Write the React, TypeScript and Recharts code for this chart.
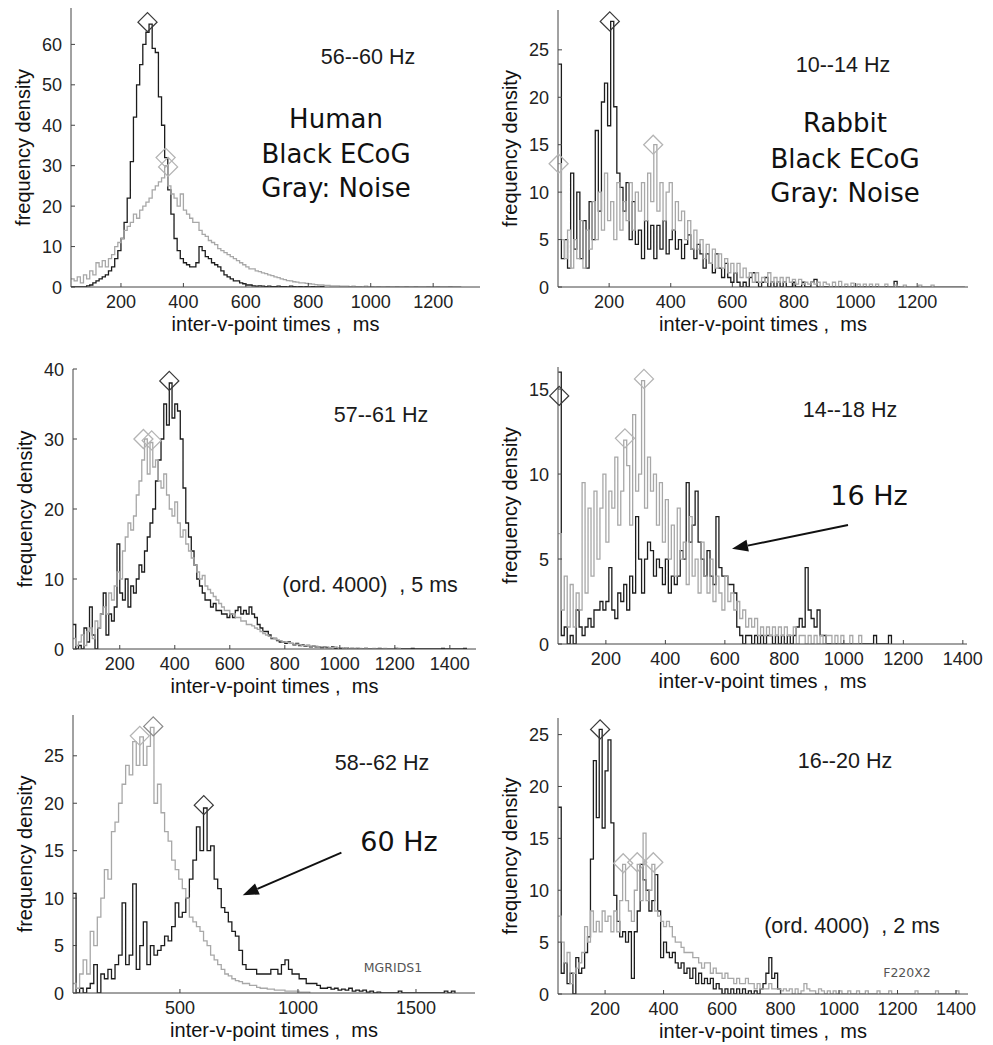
import React from 'react';
import { LineChart, Line, XAxis, YAxis, ReferenceDot, ReferenceLine } from 'recharts';

const BLACK = '#1c1c1c';
const GRAY = '#a8a8a8';
const AXIS = '#444';
const SANS = '"Liberation Sans", Arial, sans-serif';
const LUCIDA = '"DejaVu Sans", sans-serif';

// ---- panel 1: human 56--60 Hz (10 ms bins from 40 ms)
const p1Start = 40;
const p1Step = 10;
const p1Black = [
  0, 0, 0, 0, 0, 0.3, 0.5, 1, 1.5, 2,
  2.5, 3, 4, 5, 7, 9, 12, 16, 22, 31,
  42, 50, 55, 60, 63, 65, 59, 58, 47, 40,
  32, 24, 18, 12, 9, 7, 6, 5.5, 5, 5,
  6, 10, 9, 7.5, 7, 6, 5.5, 5, 4, 3,
  2.5, 2, 1.5, 1.5, 1, 0.8, 0.5, 0.5, 0.3, 0.2,
  0.3, 0.2, 0.1, 0.2, 0.1, 0.1, 0.2, 0.1, 0.1, 0,
  0.2, 0.1, 0, 0.1, 0, 0.1, 0, 0.1, 0, 0,
  0.1, 0,
];
const p1Gray = [
  2, 1.5, 2.5, 1, 3, 2, 4, 3, 6, 5,
  6.5, 5, 7, 8, 10, 11, 12, 14, 15, 16,
  18, 17, 19, 20, 21, 22, 24, 25, 26, 27,
  30, 25, 23, 22, 20, 23, 19, 18, 17, 16,
  16, 14, 13, 12.5, 11.5, 11, 10.5, 9.5, 9, 8.5,
  8, 7.5, 7, 6.5, 6, 5.5, 5, 4.5, 4.5, 4,
  3.8, 3.5, 3.3, 3, 2.8, 2.5, 2.3, 2, 1.8, 1.6,
  1.5, 1.3, 1.2, 1, 1, 0.9, 0.8, 0.7, 0.6, 0.5,
  0.5, 0.4, 0.4, 0.3, 0.3, 0.3, 0.2, 0.2, 0.2, 0.1,
  0.2, 0.1, 0.1, 0, 0.2, 0, 0.1, 0, 0.1, 0,
  0, 0.1, 0, 0, 0.1, 0, 0, 0.1, 0, 0,
  0.1, 0, 0, 0, 0.1, 0, 0, 0.1, 0, 0,
  0, 0.1, 0, 0, 0, 0,
];
const p1Peaks = [
  { t: 285, v: 65.5, tone: 'dark' },
  { t: 343, v: 32, tone: 'light' },
  { t: 351, v: 29.7, tone: 'light' },
];
const p1XTicks = [200, 400, 600, 800, 1000, 1200];
const p1YTicks = [0, 10, 20, 30, 40, 50, 60];

// ---- panel 2: rabbit 10--14 Hz (10 ms bins from 35 ms)
const p2Start = 35;
const p2Step = 10;
const p2Black = [
  23.5, 3, 5, 2, 12, 4, 10, 3, 7, 2,
  9, 5, 16.5, 8, 19.5, 21.5, 17, 28, 19, 12,
  10.5, 8, 11, 5, 9, 4.5, 6, 3, 7, 4,
  6.5, 3, 6.5, 4, 7, 3.5, 5, 6, 4, 5,
  3, 4.5, 5.5, 4, 3, 4.5, 3.5, 2, 3.5, 2.5,
  1.5, 3.5, 2, 1, 2.5, 1, 0.5, 1.5, 0.5, 0,
  0.5, 0, 1, 1.5, 0.5, 0, 0.5, 1, 0, 0.5,
  0, 0.5, 0, 0.5, 0, 0, 0.5, 0, 0, 0.5,
  0, 0, 0.5, 0.8, 0, 0, 0, 0, 0, 0,
  0, 0, 0, 0, 0, 0, 0, 0, 0, 0,
  0, 0, 0, 0, 0, 0, 0, 0, 0, 0.6,
  0, 0,
];
const p2Gray = [
  13, 5, 3, 6, 2, 5, 3, 7, 2, 6,
  4, 9, 5, 10, 6, 12, 7, 9, 5, 11,
  6, 9, 7, 11, 6, 10, 8, 11, 7, 12,
  9, 15, 8, 11, 7, 10, 11, 6, 9, 7,
  8, 5, 7, 4, 6, 4, 5, 3, 4.5, 2.5,
  4, 2, 3.5, 2, 3, 1.5, 2.5, 1.5, 2.5, 1,
  2, 1, 1.5, 0.5, 1.5, 0.5, 1, 0.5, 1.5, 0.5,
  1, 0.5, 1, 0.5, 1, 0.5, 0.8, 0.3, 0.8, 0.3,
  0.5, 0.3, 0.5, 0.3, 0.5, 0, 0.5, 0.3, 0, 0.5,
  0, 0.6, 0, 0.3, 0, 0.4, 0, 0.3, 0, 0.3,
  0, 0.3, 0, 0.3, 0, 0, 0.3, 0, 0, 0.2,
  0, 0, 0.2, 0, 0, 0, 0, 0.2, 0, 0,
  0, 0.2, 0, 0, 0, 0, 0, 0, 0, 0,
  0, 0, 0,
];
const p2Peaks = [
  { t: 202, v: 28, tone: 'dark' },
  { t: 36, v: 13, tone: 'light' },
  { t: 343, v: 15, tone: 'light' },
];
const p2XTicks = [200, 400, 600, 800, 1000, 1200];
const p2YTicks = [0, 5, 10, 15, 20, 25];

// ---- panel 3: human 57--61 Hz (10 ms bins from 30 ms)
const p3Start = 30;
const p3Step = 10;
const p3Black = [
  3.5, 0, 0.5, 0, 3, 1, 6, 2, 0, 3,
  5, 8, 2, 5, 4, 6, 15, 8, 7, 10,
  6, 9, 8, 10, 12, 11, 14, 16, 18, 20,
  24, 27, 30, 35, 32, 38, 33, 35, 34, 30,
  23, 18, 16, 14, 12, 10, 9, 8, 7, 7,
  6, 6.5, 5.5, 5.5, 5, 5, 4.5, 5, 4.5, 5.5,
  6, 5, 5.5, 5, 6, 5, 4.5, 3.5, 3, 2.5,
  2.5, 2, 1.5, 1.5, 1.2, 1, 1, 0.8, 1, 0.8,
  0.6, 0.8, 0.5, 0.6, 0.4, 0.5, 0.3, 0.4, 0.3, 0.3,
  0.2, 0.3, 0.2, 0.2, 0.3, 0.1, 0.2, 0.1, 0.1, 0.2,
  0, 0.1, 0, 0.1, 0, 0, 0.1, 0, 0, 0,
  0, 0.1, 0, 0, 0, 0, 0, 0.1, 0, 0,
  0, 0, 0, 0.1, 0, 0, 0, 0, 0, 0,
  0, 0, 0, 0, 0.1, 0, 0, 0, 0, 0,
  0, 0, 0.1, 0,
];
const p3Gray = [
  1.5, 0.5, 1, 2, 0.5, 2.5, 3, 1.5, 4, 3,
  5, 6, 5, 8, 7, 9, 11, 10, 14, 16,
  18, 17, 19, 22, 24, 27, 30, 25, 29.5, 26,
  27, 24, 23, 25, 22, 20, 19, 21, 18, 16,
  17, 15, 14, 13, 12, 11, 10, 10.5, 9, 8.5,
  8, 7.5, 7, 6.5, 6, 5.5, 5.5, 5, 5, 4.5,
  4.5, 4, 4, 3.5, 3.5, 3.3, 3, 2.8, 2.5, 2.2,
  2, 1.8, 1.6, 1.5, 1.3, 1.2, 1, 1, 0.9, 0.8,
  0.7, 0.7, 0.6, 0.5, 0.5, 0.5, 0.4, 0.4, 0.4, 0.3,
  0.3, 0.3, 0.3, 0.2, 0.2, 0.3, 0.2, 0.2, 0.1, 0.2,
  0.1, 0.1, 0.1, 0, 0.1, 0, 0.1, 0, 0, 0.1,
  0, 0, 0, 0.1, 0, 0, 0, 0, 0.1, 0,
];
const p3Peaks = [
  { t: 380, v: 38.3, tone: 'dark' },
  { t: 286, v: 30, tone: 'light' },
  { t: 316, v: 29.8, tone: 'light' },
];
const p3XTicks = [200, 400, 600, 800, 1000, 1200, 1400];
const p3YTicks = [0, 10, 20, 30, 40];

// ---- panel 4: rabbit 14--18 Hz (10 ms bins from 40 ms)
const p4Start = 40;
const p4Step = 10;
const p4Black = [
  16, 0.5, 1, 0, 0.5, 0, 2, 1, 0.5, 1,
  1.5, 1, 2, 2, 2.5, 2, 2.5, 4.5, 2, 1.5,
  3, 2.5, 3.5, 2, 4, 3, 7.5, 5, 3, 5,
  6, 5.5, 4, 5, 4.5, 3.5, 5, 3, 4, 3.5,
  4, 5.5, 5, 9.5, 6, 7, 9, 6, 5, 4,
  5.5, 4, 3.5, 7.5, 4.5, 4, 4, 3.5, 3.5, 3,
  1, 0.5, 0, 0.5, 0.5, 0, 0.5, 0, 0.5, 0,
  0.5, 0.5, 0, 0.5, 0, 0.5, 0, 0.5, 0, 0.5,
  1, 1.5, 1, 4.5, 2, 1.5, 1, 2, 0.5, 0.5,
  0, 0, 0, 0, 0, 0, 0, 0, 0, 0,
  0, 0, 0, 0, 0, 0, 0.5, 0, 0, 0,
  0, 0.5, 0,
];
const p4Gray = [
  6.5, 2, 4, 1, 3.5, 1, 3, 2, 9.5, 3,
  8, 4, 9, 5, 8, 10, 6, 9, 8, 11,
  7, 9, 12, 10.5, 7, 13.5, 9, 10, 15.5, 8,
  11, 9, 10, 7, 9.5, 6, 8.5, 5, 7, 4,
  8, 5, 6, 3.5, 7.5, 4, 5, 3, 6, 4,
  3, 5, 2.5, 4, 3, 2, 4, 2.5, 3, 2,
  2.5, 1.5, 2, 1, 1.5, 1, 1.5, 0.5, 1, 0.5,
  1, 0.5, 1, 0.5, 1, 0.5, 1, 0.5, 0.5, 1,
  0, 0.5, 0.5, 0, 0.5, 0, 0.5, 0, 0.5, 0,
  0.5, 0.5, 0, 0.5, 0, 0.5, 0, 0, 0.5, 0,
  0, 0.5, 0,
];
const p4Peaks = [
  { t: 43, v: 14.6, tone: 'dark' },
  { t: 264, v: 12.1, tone: 'light' },
  { t: 328, v: 15.6, tone: 'light' },
];
const p4Arrow = { from: [1014, 7.0], to: [624, 5.6] };
const p4XTicks = [200, 400, 600, 800, 1000, 1200, 1400];
const p4YTicks = [0, 5, 10, 15];

// ---- panel 5: human 58--62 Hz (15 ms bins from 45 ms)
const p5Start = 45;
const p5Step = 15;
const p5Black = [
  10.5, 0, 0.5, 0, 0.5, 1, 3, 0, 2, 1.5,
  2.5, 1.5, 3, 4, 9.5, 3, 4, 11.5, 2.5, 5,
  7.5, 3, 5, 4, 4.5, 5, 6, 5.5, 7, 9.5,
  8, 8.5, 10, 12, 14, 17.5, 15, 19.5, 15, 15.5,
  12, 11, 9, 8.5, 7.5, 6.5, 6, 4.5, 3, 2.5,
  2.5, 2.5, 2, 2, 2, 2, 2.5, 2.5, 2, 3,
  3.5, 2.5, 2, 2, 1.5, 1.5, 1, 1, 1, 0.8,
  0.5, 0.5, 0.6, 0.4, 0.5, 0.3, 0.4, 0.3, 0.5, 0.2,
  0.3, 0.2, 0.3, 0.1, 0.2, 0, 0.1, 0, 0, 0,
  0, 0, 0.2, 0, 0, 0, 0, 0, 0, 0,
  0, 0, 0, 0, 0, 0.2, 0, 0.2, 0,
];
const p5Gray = [
  1, 0.5, 2, 3.5, 2, 6.5, 5, 8, 10, 13,
  12, 17, 18, 20, 22, 24, 23, 26.5, 24, 27,
  24, 26, 28, 20, 22, 19, 17, 16, 14, 13,
  12, 11, 10, 8, 7.5, 7, 6.5, 5.5, 5, 4,
  3.5, 3, 2.5, 2, 1.8, 1.5, 1.3, 1.2, 1, 1,
  0.8, 0.8, 0.6, 0.5, 0.5, 0.4, 0.4, 0.3, 0.3, 0.3,
  0.2, 0.2, 0.2, 0.2, 0.1, 0.1, 0.1, 0,
];
const p5Peaks = [
  { t: 601, v: 19.8, tone: 'dark' },
  { t: 330, v: 27.1, tone: 'light' },
  { t: 387, v: 28.1, tone: 'mid' },
];
const p5Arrow = { from: [1184, 14.8], to: [766, 10.3] };
const p5XTicks = [500, 1000, 1500];
const p5YTicks = [0, 5, 10, 15, 20, 25];

// ---- panel 6: rabbit 16--20 Hz (10 ms bins from 40 ms)
const p6Start = 40;
const p6Step = 10;
const p6Black = [
  18, 2, 3, 1, 2, 0, 3.5, 2, 2.5, 4,
  5.5, 13, 22.5, 17, 25.5, 16, 21.5, 24.5, 16.5, 9.5,
  7, 5.5, 6, 5, 6, 1.5, 6, 8, 12.5, 11,
  10, 8, 9, 11.5, 8, 3.5, 5, 4, 3.5, 4,
  3, 2.5, 3, 2, 2.5, 1.5, 2.5, 1, 2, 1,
  1.5, 1, 1.5, 0.5, 1, 0.5, 0, 0.5, 0, 0.5,
  0, 0.5, 0, 0.5, 0, 0.3, 0, 0.3, 0, 0.5,
  1, 2, 3.5, 1.5, 2, 0.5, 0,
];
const p6Gray = [
  7.5, 5, 3, 4, 1, 2, 2.5, 3, 4, 6.5,
  5, 8, 6, 7, 6, 8, 7, 7.5, 6, 8,
  6, 9, 12.5, 9, 8, 7, 10, 12.5, 9, 15.5,
  9, 10, 12.5, 8, 7.5, 7, 6.5, 7, 6.5, 5.5,
  5, 5, 4.5, 4, 4, 4, 3.5, 3.5, 3, 2.5,
  3, 3, 2, 2.5, 2, 2, 1.5, 2, 1.5, 1.5,
  1, 1.5, 1, 1, 1.5, 1, 1, 0.5, 1, 0.5,
  0.5, 0.5, 1, 0.5, 0.5, 0.5, 0.3, 0.5, 0.3, 0.5,
  0, 0.5, 0, 0.3, 1, 0.5, 0.3, 0.3, 0, 0.5,
  0.3, 0, 0.3, 0, 0.3, 0, 0.3, 0, 0, 0.3,
  0, 0, 0.3, 0, 0, 0.3, 0, 0, 0, 0.3,
  0, 0, 0, 0.3, 0, 0, 0, 0, 0, 0,
  0, 0, 0.3, 0, 0, 0, 0, 0, 0, 0.3,
  0, 0, 0, 0, 0, 0, 0.3, 0,
];
const p6Peaks = [
  { t: 183, v: 25.5, tone: 'dark' },
  { t: 262, v: 12.6, tone: 'light' },
  { t: 310, v: 12.7, tone: 'light' },
  { t: 365, v: 12.7, tone: 'light' },
];
const p6XTicks = [200, 400, 600, 800, 1000, 1200, 1400];
const p6YTicks = [0, 5, 10, 15, 20, 25];

function toRows(start: number, step: number, black: number[], gray: number[]) {
  const n = Math.max(black.length, gray.length);
  const rows = [];
  for (let i = 0; i < n; i++) {
    rows.push({ t: start + i * step, black: black[i], gray: gray[i] });
  }
  return rows;
}

const toneColor: Record<string, string> = { dark: '#3a3a3a', mid: '#8a8a8a', light: '#b4b4b4' };

function Diamond(props: any) {
  const { cx, cy, stroke } = props;
  const r = 9.5;
  return (
    <polygon
      points={`${cx},${cy - r} ${cx + r},${cy} ${cx},${cy + r} ${cx - r},${cy}`}
      fill="none"
      stroke={stroke}
      strokeWidth={1.3}
    />
  );
}

function Arrow(props: any) {
  const { x1, y1, x2, y2 } = props;
  const ang = Math.atan2(y2 - y1, x2 - x1);
  const len = 16;
  const half = 6;
  const bx = x2 - len * Math.cos(ang);
  const by = y2 - len * Math.sin(ang);
  const px = -Math.sin(ang) * half;
  const py = Math.cos(ang) * half;
  return (
    <g>
      <line x1={x1} y1={y1} x2={bx} y2={by} stroke="#111" strokeWidth={2} />
      <polygon points={`${x2},${y2} ${bx + px},${by + py} ${bx - px},${by - py}`} fill="#111" />
    </g>
  );
}

function XTick(props: any) {
  const { x, y, payload } = props;
  return (
    <g>
      <line x1={x} x2={x} y1={y} y2={y - 4} stroke={AXIS} />
      <text x={x} y={y + 21} textAnchor="middle" fontSize={18} fontFamily={SANS} fill="#222">
        {payload.value}
      </text>
    </g>
  );
}

function YTick(props: any) {
  const { x, y, payload } = props;
  return (
    <g>
      <line x1={x} x2={x + 4} y1={y} y2={y} stroke={AXIS} />
      <text x={x - 9} y={y} dy={6.5} textAnchor="end" fontSize={18} fontFamily={SANS} fill="#222">
        {payload.value}
      </text>
    </g>
  );
}

type PanelProps = {
  left: number;
  top: number;
  w: number;
  h: number;
  rows: any[];
  xDomain: [number, number];
  xTicks: number[];
  yMax: number;
  yTicks: number[];
  peaks: { t: number; v: number; tone: string }[];
  arrow?: { from: number[]; to: number[] };
};

function Panel({ left, top, w, h, rows, xDomain, xTicks, yMax, yTicks, peaks, arrow }: PanelProps) {
  const ML = 60;
  const MT = 10;
  const MR = 24;
  const XH = 50;
  return (
    <div style={{ position: 'absolute', left: left - ML, top: top - MT }}>
      <LineChart
        width={ML + w + MR}
        height={MT + h + XH}
        data={rows}
        margin={{ top: MT, right: MR, bottom: 0, left: 0 }}
      >
        <XAxis
          dataKey="t"
          type="number"
          domain={xDomain}
          ticks={xTicks}
          interval={0}
          allowDataOverflow
          height={XH}
          tickSize={0}
          tickMargin={0}
          tick={(p: any) => <XTick {...p} />}
          axisLine={{ stroke: AXIS }}
          label={{
            value: 'inter-v-point times ,\u00a0 ms',
            position: 'insideBottom',
            offset: 6,
            fontSize: 20,
            fontFamily: SANS,
            fill: '#111',
          }}
        />
        <YAxis
          type="number"
          domain={[0, yMax]}
          ticks={yTicks}
          interval={0}
          allowDataOverflow
          width={ML}
          tickSize={0}
          tickMargin={0}
          tick={(p: any) => <YTick {...p} />}
          axisLine={{ stroke: AXIS }}
          label={{
            value: 'frequency density',
            angle: -90,
            position: 'insideLeft',
            offset: 12,
            fontSize: 20,
            fontFamily: SANS,
            fill: '#111',
            style: { textAnchor: 'middle' },
          }}
        />
        <Line
          dataKey="black"
          type="stepAfter"
          stroke={BLACK}
          strokeWidth={1.3}
          dot={false}
          isAnimationActive={false}
        />
        <Line
          dataKey="gray"
          type="stepAfter"
          stroke={GRAY}
          strokeWidth={1.3}
          dot={false}
          isAnimationActive={false}
        />
        {peaks.map((p, i) => (
          <ReferenceDot
            key={i}
            x={p.t}
            y={p.v}
            r={9}
            ifOverflow="visible"
            shape={(sp: any) => <Diamond {...sp} stroke={toneColor[p.tone]} />}
          />
        ))}
        {arrow && (
          <ReferenceLine
            ifOverflow="visible"
            segment={[
              { x: arrow.from[0], y: arrow.from[1] },
              { x: arrow.to[0], y: arrow.to[1] },
            ]}
            shape={(sp: any) => <Arrow {...sp} />}
          />
        )}
      </LineChart>
    </div>
  );
}

function Notes() {
  const small = { fontFamily: SANS, fontSize: 21.5, fill: '#1a1a1a', textAnchor: 'middle' as const };
  const big = { fontFamily: LUCIDA, fontSize: 26, fill: '#111', textAnchor: 'middle' as const };
  const hz = { fontFamily: LUCIDA, fontSize: 27, fill: '#111', textAnchor: 'middle' as const };
  const tag = { fontFamily: LUCIDA, fontSize: 12.5, fill: '#555', textAnchor: 'middle' as const };
  return (
    <svg
      width={993}
      height={1045}
      style={{ position: 'absolute', left: 0, top: 0, pointerEvents: 'none' }}
    >
      <text x={368} y={64} {...small}>56--60 Hz</text>
      <text x={336} y={128} {...big}>Human</text>
      <text x={336} y={163} {...big}>Black ECoG</text>
      <text x={336} y={197} {...big}>Gray: Noise</text>

      <text x={843} y={72} {...small}>10--14 Hz</text>
      <text x={845} y={132} {...big}>Rabbit</text>
      <text x={845} y={168} {...big}>Black ECoG</text>
      <text x={845} y={202} {...big}>Gray: Noise</text>

      <text x={381} y={422} {...small}>57--61 Hz</text>
      <text x={370} y={592} {...small}>(ord. 4000)&#160; , 5 ms</text>

      <text x={850} y={417} {...small}>14--18 Hz</text>
      <text x={869} y={505} {...hz}>16 Hz</text>

      <text x={382} y={770} {...small}>58--62 Hz</text>
      <text x={399} y={851} {...hz}>60 Hz</text>
      <text x={393} y={972} {...tag}>MGRIDS1</text>

      <text x={845} y={768} {...small}>16--20 Hz</text>
      <text x={852} y={933} {...small}>(ord. 4000)&#160; , 2 ms</text>
      <text x={907} y={977} {...tag}>F220X2</text>
    </svg>
  );
}

export default function App() {
  return (
    <div style={{ position: 'absolute', left: 0, top: 0, width: 993, height: 1045, background: '#fff' }}>
      <Panel
        left={71} top={8} w={409} h={279}
        rows={toRows(p1Start, p1Step, p1Black, p1Gray)}
        xDomain={[40, 1350]} xTicks={p1XTicks} yMax={69} yTicks={p1YTicks} peaks={p1Peaks}
      />
      <Panel
        left={558} top={10} w={410} h={277}
        rows={toRows(p2Start, p2Step, p2Black, p2Gray)}
        xDomain={[34, 1365]} xTicks={p2XTicks} yMax={29.2} yTicks={p2YTicks} peaks={p2Peaks}
      />
      <Panel
        left={73} top={369} w={403} h={280}
        rows={toRows(p3Start, p3Step, p3Black, p3Gray)}
        xDomain={[30, 1495]} xTicks={p3XTicks} yMax={40} yTicks={p3YTicks} peaks={p3Peaks}
      />
      <Panel
        left={558} top={367} w={409} h={277}
        rows={toRows(p4Start, p4Step, p4Black, p4Gray)}
        xDomain={[39, 1414]} xTicks={p4XTicks} yMax={16.3} yTicks={p4YTicks} peaks={p4Peaks}
        arrow={p4Arrow}
      />
      <Panel
        left={73} top={715} w={402} h={278}
        rows={toRows(p5Start, p5Step, p5Black, p5Gray)}
        xDomain={[47, 1750]} xTicks={p5XTicks} yMax={29.3} yTicks={p5YTicks} peaks={p5Peaks}
        arrow={p5Arrow}
      />
      <Panel
        left={558} top={718} w={410} h={276}
        rows={toRows(p6Start, p6Step, p6Black, p6Gray)}
        xDomain={[39, 1441]} xTicks={p6XTicks} yMax={26.6} yTicks={p6YTicks} peaks={p6Peaks}
      />
      <Notes />
    </div>
  );
}
